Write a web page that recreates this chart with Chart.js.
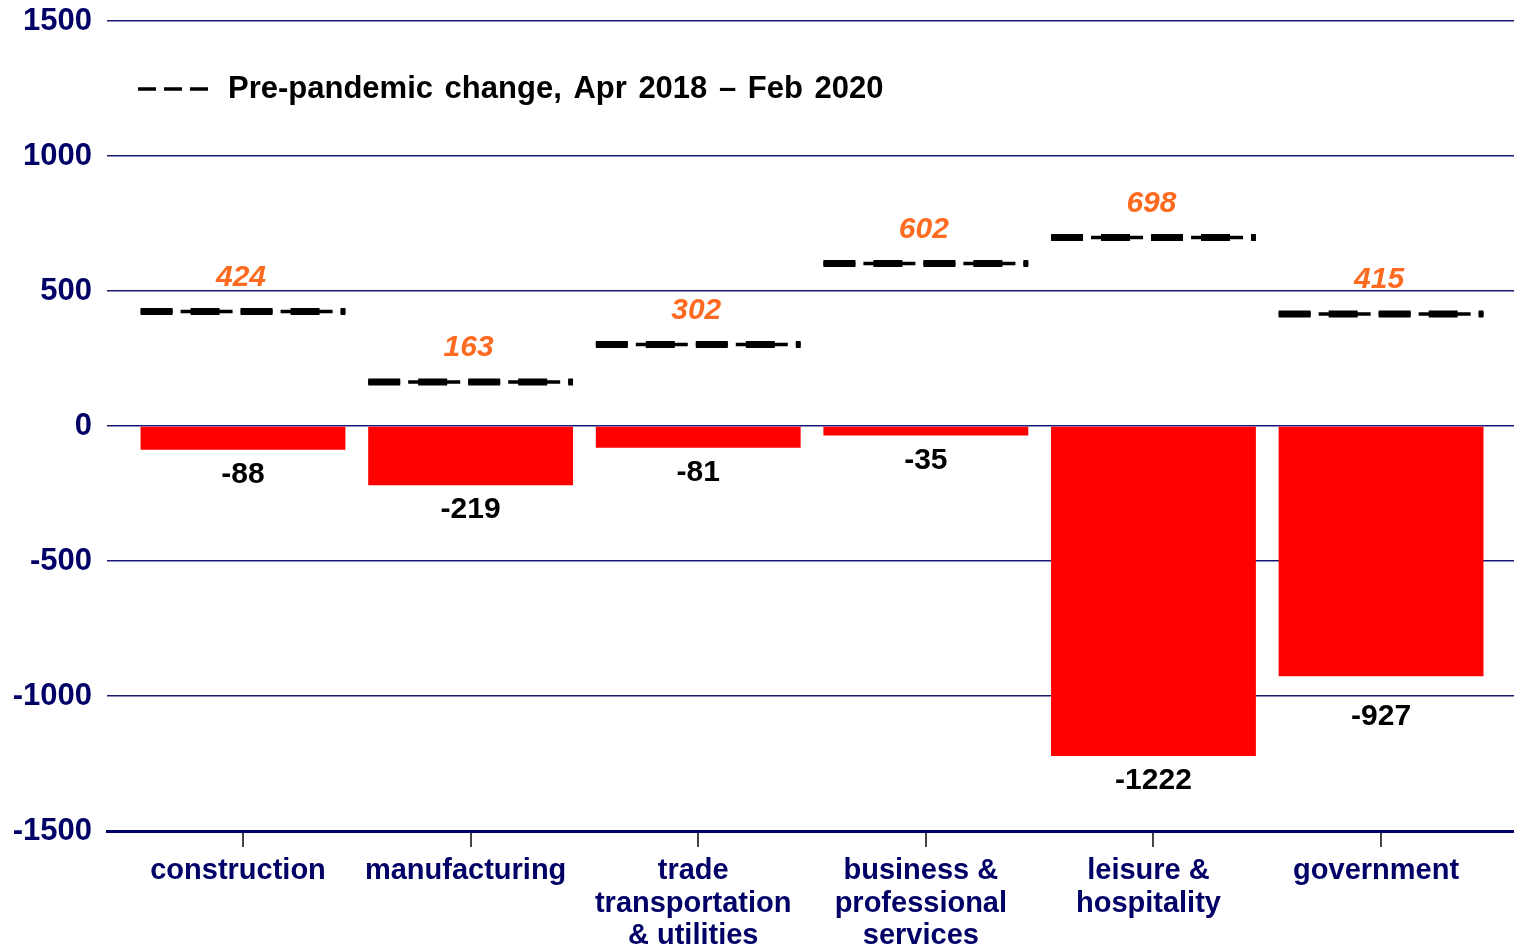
<!DOCTYPE html>
<html>
<head>
<meta charset="utf-8">
<title>Employment change by sector</title>
<script src="https://cdn.jsdelivr.net/npm/chart.js@4/dist/chart.umd.min.js"></script>
<style>
  html, body { margin: 0; padding: 0; background: #fff; overflow: hidden; }
  #wrap { width: 1514px; height: 946px; position: relative; }
</style>
</head>
<body>
<div id="wrap"><canvas id="chart"></canvas></div>
<script>
// sectors along the bottom (multi-line labels)
const sectorLabels = [
    ['construction'],
    ['manufacturing'],
    ['trade', 'transportation', '& utilities'],
    ['business &', 'professional', 'services'],
    ['leisure &', 'hospitality'],
    ['government']
];

// change in jobs (thousands), red bars
const recentChange = [-88, -219, -81, -35, -1222, -927];

// pre-pandemic change, Apr 2018 - Feb 2020 (dashed markers)
const prePandemicChange = [424, 163, 302, 602, 698, 415];

const yTicks = [-1500, -1000, -500, 0, 500, 1000, 1500];

const NAVY = '#000066';
const FONT = '"Liberation Sans", Arial, Helvetica, sans-serif';

Chart.defaults.font.family = FONT;

// each dashed marker is a short segment across the bar width, split by a null
function markerPoints(values) {
    const pts = [];
    values.forEach((v, i) => {
        pts.push({ x: i - 0.45, y: v });
        pts.push({ x: i + 0.45, y: v });
        pts.push({ x: i + 0.5, y: null });
    });
    return pts;
}

const valueLabels = {
    id: 'valueLabels',
    afterDatasetsDraw(chart) {
        const ctx = chart.ctx;
        const xs = chart.scales.x;
        const ys = chart.scales.y;
        const bars = chart.getDatasetMeta(0).data;
        const gridY = yTicks.map(t => ys.getPixelForValue(t));

        ctx.save();
        ctx.textAlign = 'center';
        ctx.textBaseline = 'middle';

        // numbers under the red bars, pushed down if they'd sit on a gridline
        ctx.fillStyle = '#000';
        ctx.font = 'bold 30px ' + FONT;
        bars.forEach((bar, i) => {
            let y = bar.y + 25;
            if (gridY.some(g => Math.abs(g - y) < 12)) y += 15;
            ctx.fillText(String(recentChange[i]), bar.x, y);
        });

        // orange numbers above the dashed markers
        ctx.fillStyle = '#ff6a21';
        ctx.font = 'italic bold 30px ' + FONT;
        prePandemicChange.forEach((v, i) => {
            ctx.fillText(String(v), xs.getPixelForValue(i) - 2, ys.getPixelForValue(v) - 34);
        });
        ctx.restore();
    }
};

// legend line inside the plot, top left
const innerLegend = {
    id: 'innerLegend',
    afterDraw(chart) {
        const ctx = chart.ctx;
        const y = 89;
        ctx.save();
        ctx.strokeStyle = '#000';
        ctx.lineWidth = 3.5;
        ctx.setLineDash([18, 8]);
        ctx.beginPath();
        ctx.moveTo(138, y);
        ctx.lineTo(208, y);
        ctx.stroke();
        ctx.setLineDash([]);

        ctx.fillStyle = '#000';
        ctx.font = 'bold 31px ' + FONT;
        ctx.textAlign = 'left';
        ctx.textBaseline = 'middle';
        ctx.wordSpacing = '3px';
        ctx.fillText('Pre-pandemic change, Apr 2018 \u2013 Feb 2020', 228, y);
        ctx.restore();
    }
};

new Chart(document.getElementById('chart'), {
    data: {
        datasets: [
            {
                type: 'bar',
                data: recentChange.map((v, i) => ({ x: i, y: v })),
                backgroundColor: '#ff0000',
                borderWidth: 0,
                barPercentage: 0.9,
                categoryPercentage: 1,
                order: 2
            },
            {
                // thin connecting strokes of the marker
                type: 'line',
                data: markerPoints(prePandemicChange),
                borderColor: '#000',
                borderWidth: 3.5,
                borderDash: [32, 8, 52, 8],
                borderCapStyle: 'butt',
                pointRadius: 0,
                spanGaps: false,
                fill: false,
                order: 1
            },
            {
                // thick dashes of the marker
                type: 'line',
                data: markerPoints(prePandemicChange),
                borderColor: '#000',
                borderWidth: 7,
                borderDash: [32, 18, 29, 21],
                borderCapStyle: 'butt',
                pointRadius: 0,
                spanGaps: false,
                fill: false,
                order: 0
            }
        ]
    },
    options: {
        responsive: true,
        maintainAspectRatio: false,
        animation: false,
        layout: { padding: { top: 21, right: 0, left: 0, bottom: 0 } },
        plugins: {
            legend: { display: false },
            tooltip: { enabled: false }
        },
        scales: {
            x: {
                type: 'linear',
                offset: false,
                min: -0.5975,
                max: 5.584,
                afterBuildTicks(scale) {
                    scale.ticks = sectorLabels.map((_, i) => ({ value: i }));
                },
                afterFit(scale) {
                    scale.height = 115;
                    scale.paddingLeft = 0;
                    scale.paddingRight = 0;
                },
                ticks: {
                    autoSkip: false,
                    maxRotation: 0,
                    padding: 8,
                    labelOffset: -5,
                    color: NAVY,
                    font: { size: 29, weight: 'bold', lineHeight: 1.12 },
                    callback: (v) => sectorLabels[v]
                },
                grid: {
                    offset: false,
                    drawOnChartArea: false,
                    drawTicks: true,
                    tickLength: 16,
                    color: '#444',
                    lineWidth: 2
                },
                border: { display: true, color: NAVY, width: 3 }
            },
            y: {
                min: -1500,
                max: 1500,
                afterBuildTicks(scale) {
                    scale.ticks = yTicks.map(v => ({ value: v }));
                },
                afterFit(scale) {
                    scale.width = 107;
                    scale.paddingTop = 0;
                    scale.paddingBottom = 0;
                },
                ticks: {
                    padding: 15,
                    color: NAVY,
                    font: { size: 31, weight: 'bold' },
                    callback: (v) => String(v)
                },
                grid: {
                    color: '#1a1a72',
                    lineWidth: 1.5,
                    drawTicks: false
                },
                border: { display: false }
            }
        }
    },
    plugins: [valueLabels, innerLegend]
});
</script>
</body>
</html>
